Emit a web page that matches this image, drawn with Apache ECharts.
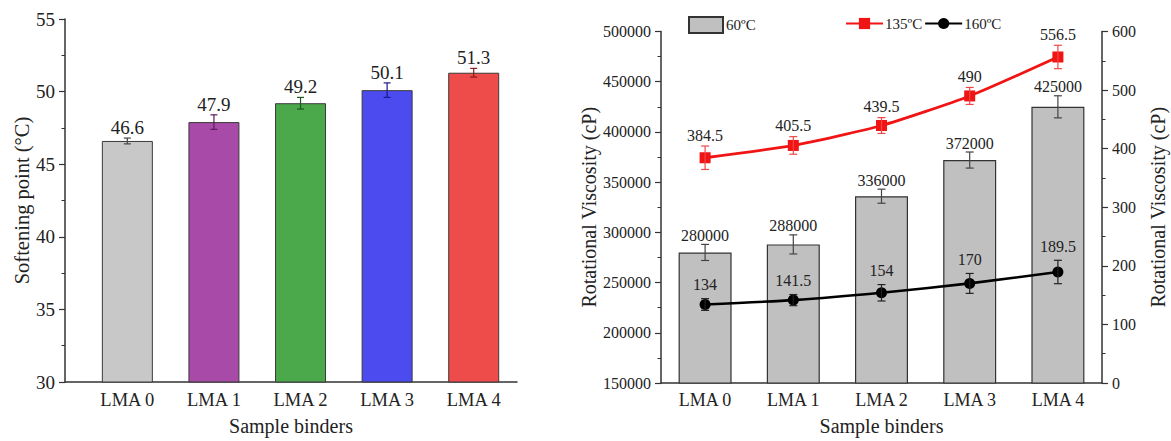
<!DOCTYPE html>
<html><head><meta charset="utf-8">
<script src="https://cdn.jsdelivr.net/npm/echarts@6/dist/echarts.min.js"></script>
<style>html,body{margin:0;padding:0;background:#fff}#c{width:1171px;height:441px}</style>
</head><body><div id="c"></div>
<script>
const categories = ['LMA 0', 'LMA 1', 'LMA 2', 'LMA 3', 'LMA 4'];
const softening = [46.6, 47.9, 49.2, 50.1, 51.3];
const softeningErr = [0.2, 0.5, 0.4, 0.5, 0.3];
const softeningColors = ['#c8c8c8', '#a84ba8', '#4ba84b', '#4b4bf0', '#ee4b4b'];
const softeningErrColors = ['#444444', '#5a1a5a', '#1a5a1a', '#1a1a8a', '#8a1a1a'];
const visc60 = [280000, 288000, 336000, 372000, 425000];
const visc60Err = [8000, 9500, 7000, 8000, 11000];
const visc135 = [384.5, 405.5, 439.5, 490, 556.5];
const visc135Err = [20, 15, 13.5, 14.5, 20];
const visc160 = [134, 141.5, 154, 170, 189.5];
const visc160Err = [10, 9.5, 14, 17, 20];
const legendNames = ['60ºC', '135ºC', '160ºC'];

const FONT = '"Liberation Serif", "Times New Roman", serif';
const TXT = '#222';
const idx = categories.map((c, i) => i);

function errorSeries(name, xi, yi, vals, errs, colors, capW, gap, fontSize, z) {
  return {
    type: 'custom', name: name, xAxisIndex: xi, yAxisIndex: yi, z: z,
    silent: true,
    data: vals.map((v, i) => [idx[i], v, errs[i]]),
    encode: { x: 0, y: 1 },
    renderItem: function (params, api) {
      const x = api.value(0), v = api.value(1), e = api.value(2);
      const hi = api.coord([x, v + e]);
      const lo = api.coord([x, v - e]);
      const c = Array.isArray(colors) ? colors[params.dataIndex] : colors;
      const hw = capW / 2;
      const ls = { stroke: c, lineWidth: 1.2 };
      return {
        type: 'group', children: [
          { type: 'line', shape: { x1: hi[0], y1: hi[1], x2: lo[0], y2: lo[1] }, style: ls },
          { type: 'line', shape: { x1: hi[0] - hw, y1: hi[1], x2: hi[0] + hw, y2: hi[1] }, style: ls },
          { type: 'line', shape: { x1: lo[0] - hw, y1: lo[1], x2: lo[0] + hw, y2: lo[1] }, style: ls },
          { type: 'text', x: hi[0], y: hi[1] - gap,
            style: { text: String(v), fill: TXT, font: fontSize + 'px ' + FONT,
              align: 'center', verticalAlign: 'bottom', textAlign: 'center', textVerticalAlign: 'bottom' } }
        ]
      };
    }
  };
}

const axisLineStyle = { color: '#333', width: 1.5 };

const chart = echarts.init(document.getElementById('c'), null, { renderer: 'svg' });
chart.setOption({
  animation: false,
  backgroundColor: '#fff',
  textStyle: { fontFamily: FONT, color: TXT },
  legend: [
    { data: [{ name: legendNames[0], icon: 'rect' }], left: 683, top: 11, itemWidth: 34, itemHeight: 16, itemGap: 4,
      textStyle: { fontFamily: FONT, fontSize: 15, color: TXT, padding: [0, 0, 0, -2] } },
    { data: [legendNames[1], legendNames[2]], left: 840, top: 11, itemWidth: 37, itemHeight: 14, itemGap: 2,
      textStyle: { fontFamily: FONT, fontSize: 15, color: TXT, padding: [0, 0, 0, -3] } }
  ],
  grid: [
    { left: 65, top: 19, width: 452, height: 363 },
    { left: 661, top: 31.5, width: 441, height: 354 }
  ],
  xAxis: [
    { type: 'value', gridIndex: 0, min: -0.72, max: 4.5,
      axisLine: { show: true, onZero: false, lineStyle: axisLineStyle },
      axisTick: { show: false }, splitLine: { show: false },
      axisLabel: { customValues: idx, formatter: v => categories[Math.round(v)] || '',
        fontFamily: FONT, fontSize: 18.5, color: TXT, margin: 8 },
      name: 'Sample binders', nameLocation: 'middle', nameGap: 34,
      nameTextStyle: { fontFamily: FONT, fontSize: 20, color: TXT } },
    { type: 'category', gridIndex: 1, data: categories,
      axisLine: { show: true, onZero: false, lineStyle: axisLineStyle },
      axisTick: { show: false },
      axisLabel: { fontFamily: FONT, fontSize: 18, color: TXT, margin: 8 },
      name: 'Sample binders', nameLocation: 'middle', nameGap: 33,
      nameTextStyle: { fontFamily: FONT, fontSize: 20, color: TXT } }
  ],
  yAxis: [
    { type: 'value', gridIndex: 0, min: 30, max: 55, interval: 5,
      axisLine: { show: true, onZero: false, lineStyle: axisLineStyle },
      axisTick: { show: true, length: 6, lineStyle: { color: '#333', width: 1.2 } },
      minorTick: { show: true, splitNumber: 2, length: 3.5, lineStyle: { color: '#333', width: 1 } },
      splitLine: { show: false },
      axisLabel: { fontFamily: FONT, fontSize: 19, color: TXT, margin: 10 },
      name: 'Softening point (°C)', nameLocation: 'middle', nameGap: 33,
      nameTextStyle: { fontFamily: FONT, fontSize: 20.5, color: TXT } },
    { type: 'value', gridIndex: 1, position: 'left', min: 150000, max: 500000, interval: 50000,
      axisLine: { show: true, onZero: false, lineStyle: axisLineStyle },
      axisTick: { show: true, length: 6, lineStyle: { color: '#333', width: 1.2 } },
      minorTick: { show: true, splitNumber: 2, length: 3.5, lineStyle: { color: '#333', width: 1 } },
      splitLine: { show: false },
      axisLabel: { fontFamily: FONT, fontSize: 16, color: TXT, margin: 10, formatter: v => String(v) },
      name: 'Rotational Viscosity (cP)', nameLocation: 'middle', nameGap: 62,
      nameTextStyle: { fontFamily: FONT, fontSize: 20, color: TXT } },
    { type: 'value', gridIndex: 1, position: 'right', min: 0, max: 600, interval: 100,
      axisLine: { show: true, onZero: false, lineStyle: axisLineStyle },
      axisTick: { show: true, length: 6, lineStyle: { color: '#333', width: 1.2 } },
      minorTick: { show: true, splitNumber: 2, length: 3.5, lineStyle: { color: '#333', width: 1 } },
      splitLine: { show: false },
      axisLabel: { fontFamily: FONT, fontSize: 16, color: TXT, margin: 10, formatter: v => String(v) },
      name: 'Rotational Viscosity (cP)', nameLocation: 'middle', nameGap: 46, nameRotate: 90,
      nameTextStyle: { fontFamily: FONT, fontSize: 20, color: TXT } }
  ],
  series: [
    { type: 'bar', name: 'Softening', xAxisIndex: 0, yAxisIndex: 0, barWidth: 51,
      data: softening.map((v, i) => ({ value: [idx[i], v],
        itemStyle: { color: softeningColors[i], borderColor: '#3a3a3a', borderWidth: 1 } })),
      z: 2 },
    errorSeries('SofteningErr', 0, 0, softening, softeningErr, softeningErrColors, 7, 1, 19, 5),
    { type: 'bar', name: legendNames[0], xAxisIndex: 1, yAxisIndex: 1, barWidth: 53,
      data: visc60,
      itemStyle: { color: '#c0c0c0', borderColor: '#333', borderWidth: 1.2 }, z: 2 },
    errorSeries('v60err', 1, 1, visc60, visc60Err, '#444', 8, 1, 16, 5),
    { type: 'line', name: legendNames[1], xAxisIndex: 1, yAxisIndex: 2, data: visc135,
      smooth: 0.2, symbol: 'rect', symbolSize: 11, showSymbol: true,
      lineStyle: { color: '#f01414', width: 2.8 }, itemStyle: { color: '#f01414' }, z: 6 },
    errorSeries('v135err', 1, 2, visc135, visc135Err, '#f04848', 8, 3, 16, 7),
    { type: 'line', name: legendNames[2], xAxisIndex: 1, yAxisIndex: 2, data: visc160,
      smooth: 0.2, symbol: 'circle', symbolSize: 11, showSymbol: true,
      lineStyle: { color: '#000', width: 2.6 }, itemStyle: { color: '#000' }, z: 6 },
    errorSeries('v160err', 1, 2, visc160, visc160Err, '#222', 8, 6, 16, 7)
  ]
});
</script>
</body></html>
